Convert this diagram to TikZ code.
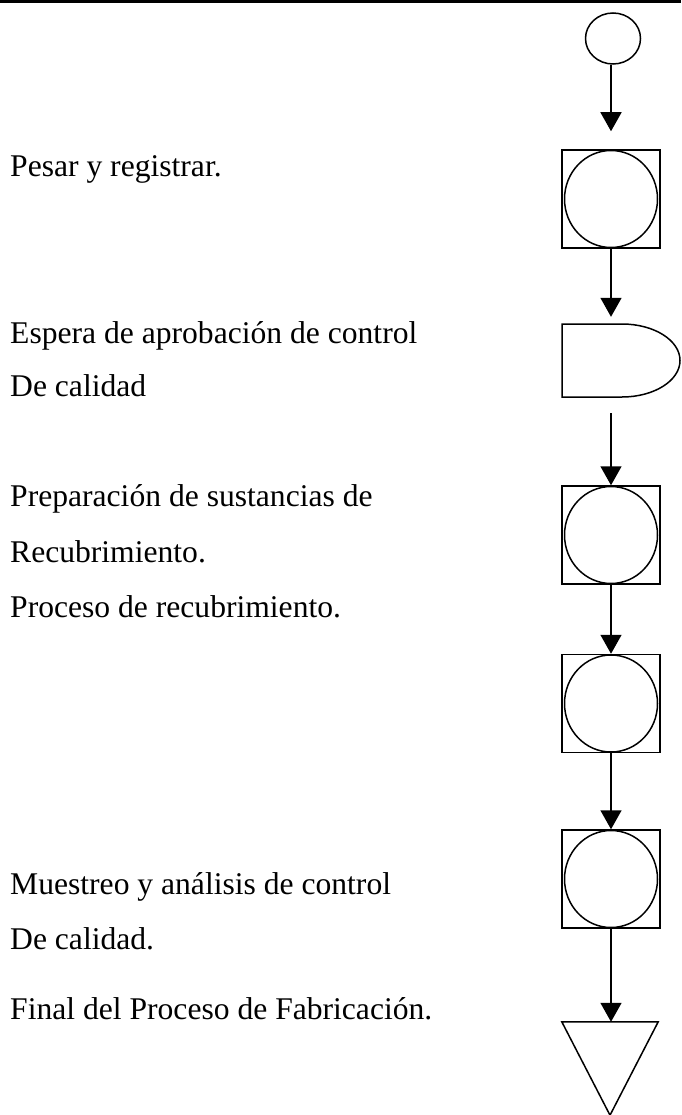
\documentclass[tikz,border=0pt]{standalone}
\usepackage{fontspec}
\setmainfont{Liberation Serif}
\usetikzlibrary{arrows.meta,shapes.geometric}
\begin{document}
\begin{tikzpicture}[x=1pt,y=-1pt,
  shp/.style={line width=1.5pt},
  opbox/.style={draw, line width=1.5pt, rectangle, minimum width=98pt, minimum height=98pt, inner sep=0pt,
    path picture={\draw[line width=1.5pt] (path picture bounding box.center) ellipse (46.5pt and 48.5pt);}},
  conn/.style={line width=1.5pt, -{Triangle[width=21pt,length=19pt]}},
  lbl/.style={anchor=base west, inner sep=0pt, font=\fontsize{31.6}{38}\selectfont},
  ghost/.style={rectangle, inner sep=0pt},
]
\useasboundingbox (0,0) rectangle (681,1115);
\fill (0,0) rectangle (681,3);

% symbols
\node[draw, ellipse, line width=1.5pt, minimum width=55pt, minimum height=51pt, inner sep=0pt] (start) at (613,38.5) {};
\node[opbox] (op1) at (611,199) {};
\node[ghost, minimum width=118pt, minimum height=73pt] (delay) at (621,360.5) {};
\draw[shp] (562,324) -- (622,324) .. controls (654,324) and (680,340.3) .. (680,360.5)
  .. controls (680,380.7) and (654,397) .. (622,397) -- (562,397) -- cycle;
\node[opbox] (op2) at (611,535) {};
\node[opbox] (op3) at (611,703.5) {};
\node[opbox] (op4) at (611,879) {};
\node[ghost, minimum width=96pt, minimum height=93pt] (fin) at (610,1068.5) {};
\draw[shp] (fin.north west) -- (fin.north east) -- (fin.south) -- cycle;

% connectors
\draw[conn, shorten >=18pt] (start.south -| op1.north) -- (op1.north);
\draw[conn, shorten >=7pt] (op1.south) -- (op1.south |- delay.north);
\draw[conn, shorten <=16pt] (op1.south |- delay.south) -- (op2.north);
\draw[conn] (op2.south) -- (op3.north);
\draw[conn] (op3.south) -- (op4.north);
\draw[conn] (op4.south) -- (fin.north -| op4.south);

% labels
\node[lbl] (t1) at (10,177) {Pesar y registrar.};
\node[lbl] (t2) at (10,343) {Espera de aprobación de control};
\node[lbl] (t2b) at (10,396) {De calidad};
\node[lbl] (t3) at (10,506) {Preparación de sustancias de};
\node[lbl] (t3b) at (10,562) {Recubrimiento.};
\node[lbl] (t4) at (10,617) {Proceso de recubrimiento.};
\node[lbl] (t5) at (10,894) {Muestreo y análisis de control};
\node[lbl] (t5b) at (10,949) {De calidad.};
\node[lbl] (t6) at (10,1019) {Final del Proceso de Fabricación.};
\end{tikzpicture}
\end{document}
